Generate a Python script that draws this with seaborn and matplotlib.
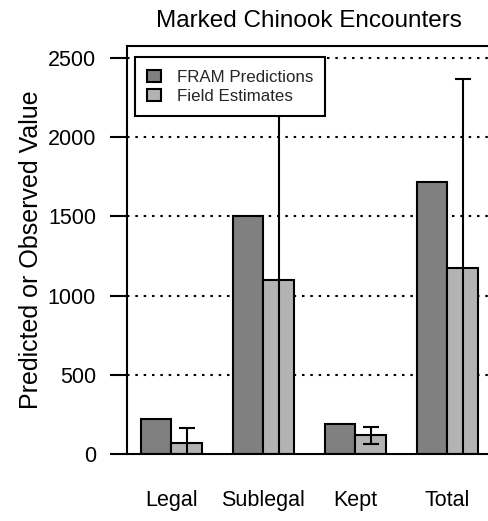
import matplotlib
matplotlib.use("Agg")
import matplotlib.pyplot as plt
from matplotlib.patches import Patch
import numpy as np
import pandas as pd
import seaborn as sns

# Encounter categories and the two series
categories = ["Legal", "Sublegal", "Kept", "Total"]
series_names = ["FRAM Predictions", "Field Estimates"]
fram_values = [220, 1500, 189, 1720]
field_values = [72, 1100, 118, 1172]
# Interval bounds for the field estimates
field_lower = [-16, -250, 65, -23]
field_upper = [162, 2450, 172, 2367]
y_ticks = [0, 500, 1000, 1500, 2000, 2500]

bar_colors = ["#808080", "#b3b3b3"]

sns.set_theme(style="white")
plt.rcParams["font.family"] = ["Liberation Sans", "DejaVu Sans"]

df = pd.DataFrame({
    "category": categories * 2,
    "value": fram_values + field_values,
    "series": [series_names[0]] * 4 + [series_names[1]] * 4,
})

fig = plt.figure(figsize=(4.89, 5.21), dpi=100)
ax = fig.add_axes([127.2 / 489, 67 / 521, 364.4 / 489, 408 / 521])

# dotted reference lines behind the bars
for t in y_ticks[1:]:
    ax.axhline(t, color="black", linewidth=1.5, linestyle=(0, (1.2, 2.8)), zorder=0.5)

sns.barplot(data=df, x="category", y="value", hue="series", order=categories,
            hue_order=series_names, palette=bar_colors, saturation=1,
            width=2 / 3, edgecolor="black", linewidth=1.5, errorbar=None,
            legend=False, ax=ax, zorder=2)

# error bars on the field-estimate bars
field_patches = ax.patches[len(categories):2 * len(categories)]
xs = [p.get_x() + p.get_width() / 2 for p in field_patches]
yv = np.array(field_values, dtype=float)
yerr = np.vstack([yv - np.array(field_lower), np.array(field_upper) - yv])
ax.errorbar(xs, yv, yerr=yerr, fmt="none", ecolor="black", elinewidth=1.5,
            capsize=6, capthick=1.5, zorder=3)

ax.set_xlim(-0.48, 3.48)
ax.set_ylim(0, 2576)
ax.set_yticks(y_ticks)
ax.set_yticklabels([str(t) for t in y_ticks])
ax.tick_params(axis="y", length=12, width=1.5, pad=10.5, labelsize=15.5,
               colors="black", left=True)
ax.tick_params(axis="x", length=0, pad=26, labelsize=15.5, colors="black")
ax.set_xlabel("")
ax.set_ylabel("Predicted or Observed Value", fontsize=18, color="black")
ax.yaxis.set_label_coords(-0.232, 0.5)
ax.set_title("Marked Chinook Encounters", fontsize=17.5, color="black", pad=14)

for s in ax.spines.values():
    s.set_visible(True)
    s.set_color("black")
    s.set_linewidth(1.5)

handles = [Patch(facecolor=c, edgecolor="black", linewidth=1.5) for c in bar_colors]
leg = ax.legend(handles, series_names, loc="upper left",
                bbox_to_anchor=(0.0214, 0.9723), borderaxespad=0,
                fontsize=12.2, frameon=True, fancybox=False, framealpha=1,
                edgecolor="black", facecolor="white", handlelength=0.8,
                handleheight=0.7, handletextpad=0.95, borderpad=0.72,
                labelspacing=0.28)
leg.get_frame().set_linewidth(1.5)
leg.set_zorder(5)

fig.savefig("out.png", dpi=100)
